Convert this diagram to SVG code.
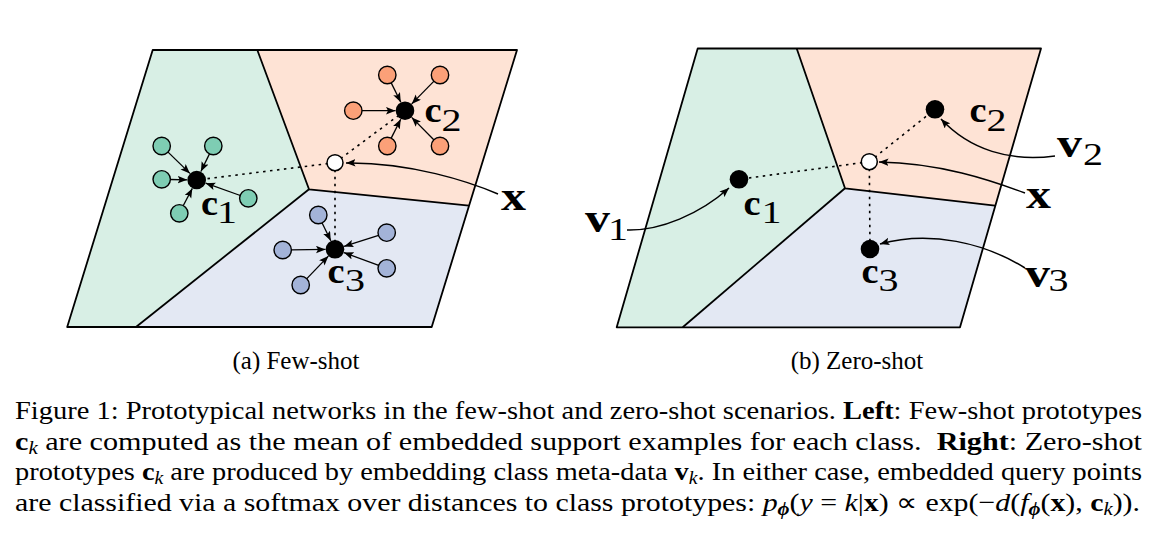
<svg xmlns="http://www.w3.org/2000/svg" width="1153" height="533" viewBox="0 0 1153 533">
<style>
.bd{fill:none;stroke:#000;stroke-width:1.8;stroke-linejoin:round}
.rg{fill:#d8efe5}.ro{fill:#fee3d5}.rb{fill:#e3e8f3}
.sg{fill:#7ecdb3;stroke:#000;stroke-width:1.4}
.so{fill:#fba078;stroke:#000;stroke-width:1.4}
.sb{fill:#a3b3d8;stroke:#000;stroke-width:1.4}
.ct{fill:#000}
.q{fill:#fff;stroke:#000;stroke-width:1.5}
.dot{fill:none;stroke:#000;stroke-width:1.6;stroke-dasharray:2.5 4.5}
.ar{fill:none;stroke:#000;stroke-width:1.3;marker-end:url(#ah)}
.cv{fill:none;stroke:#000;stroke-width:1.5;marker-end:url(#ah)}
.m{font-family:"Liberation Serif",serif;font-weight:bold;font-size:36px;fill:#000}
.mx{font-family:"Liberation Serif",serif;font-weight:bold;font-size:42px;fill:#000}
.sub{font-family:"Liberation Serif",serif;font-size:31px;fill:#000}
.cap{font-family:"Liberation Serif",serif;font-size:26px;fill:#000}
.sc{font-family:"Liberation Serif",serif;font-size:25px;fill:#000}
.b{font-weight:bold}.i{font-style:italic}
</style>
<defs>
<marker id="ah" markerUnits="userSpaceOnUse" markerWidth="11" markerHeight="8" refX="9.5" refY="3.75" orient="auto">
<path d="M0,0 L9.5,3.75 L0,7.5 L2,3.75 z" fill="#000"/>
</marker>
</defs>

<g id="panel-a-regions">
<polygon class="rg" points="152.7,50 257.3,50 309,189.3 136,327 67.2,327"/>
<polygon class="ro" points="257.3,50 517,50 469,205.7 309,189.3"/>
<polygon class="rb" points="309,189.3 469,205.7 431.7,327 136,327"/>
<polygon class="bd" points="152.7,50 517,50 431.7,327 67.2,327"/>
<polyline class="bd" points="257.3,50 309,189.3 469,205.7"/>
<line class="bd" x1="309" y1="189.3" x2="136" y2="327"/>
</g>

<g id="panel-b-regions">
<polygon class="rg" points="697.7,48.5 796.7,48.5 845,188.3 682.7,327.3 616.7,327.3"/>
<polygon class="ro" points="796.7,48.5 1041,48.5 995,205.7 845,188.3"/>
<polygon class="rb" points="845,188.3 995,205.7 960,327.3 682.7,327.3"/>
<polygon class="bd" points="697.7,48.5 1041,48.5 960,327.3 616.7,327.3"/>
<polyline class="bd" points="796.7,48.5 845,188.3 995,205.7"/>
<line class="bd" x1="845" y1="188.3" x2="682.7" y2="327.3"/>
</g>

<g id="connectors">
<line class="dot" x1="335" y1="162.7" x2="196.7" y2="180"/>
<line class="dot" x1="335" y1="162.7" x2="405" y2="110.7"/>
<line class="dot" x1="335" y1="162.7" x2="335" y2="249.3"/>
<line class="ar" x1="167.8" y1="151.9" x2="189.9" y2="173.4"/>
<line class="ar" x1="209.6" y1="153.6" x2="200.9" y2="171.5"/>
<line class="ar" x1="170.2" y1="179.5" x2="187.2" y2="179.8"/>
<line class="ar" x1="240.3" y1="195.5" x2="205.7" y2="183.2"/>
<line class="ar" x1="183.2" y1="205.8" x2="192.3" y2="188.4"/>
<line class="ar" x1="391.1" y1="82.6" x2="400.8" y2="102.2"/>
<line class="ar" x1="434" y1="81.1" x2="411.7" y2="103.9"/>
<line class="ar" x1="361.8" y1="110.7" x2="395.5" y2="110.7"/>
<line class="ar" x1="391.1" y1="138.4" x2="400.7" y2="119.2"/>
<line class="ar" x1="434" y1="140" x2="411.7" y2="117.4"/>
<line class="ar" x1="322" y1="222.7" x2="330.8" y2="240.8"/>
<line class="ar" x1="378.6" y1="235.3" x2="344" y2="246.4"/>
<line class="ar" x1="291.2" y1="249.9" x2="325.5" y2="249.4"/>
<line class="ar" x1="378.7" y1="265.4" x2="343.9" y2="252.6"/>
<line class="ar" x1="306.6" y1="278.9" x2="328.4" y2="256.1"/>
<path class="cv" d="M498,194 C470,182 410,162 346,163"/>
<line class="dot" x1="869.3" y1="161.7" x2="739" y2="179.3"/>
<line class="dot" x1="869.3" y1="161.7" x2="935" y2="109.3"/>
<line class="dot" x1="869.3" y1="161.7" x2="870" y2="249"/>
<path class="cv" d="M1025,193 C990,180 940,163 879,162"/>
<path class="cv" d="M627,230 C660,231 700,214 729,188"/>
<path class="cv" d="M1055,156 C1010,162 970,150 941,119"/>
<path class="cv" d="M1025,268 C985,243 930,230 880,244"/>
</g>

<g id="a-class1">
<circle class="sg" cx="161.7" cy="146" r="8.7"/>
<circle class="sg" cx="213.3" cy="146" r="8.7"/>
<circle class="sg" cx="161.7" cy="179.3" r="8.7"/>
<circle class="sg" cx="248.3" cy="198.3" r="8.7"/>
<circle class="sg" cx="179.3" cy="213.3" r="8.7"/>
<circle class="ct" cx="196.7" cy="180" r="9.3"/>
<text class="m" x="201" y="215" textLength="17" lengthAdjust="spacingAndGlyphs">c</text><text class="sub" x="217" y="223" textLength="20" lengthAdjust="spacingAndGlyphs">1</text>
</g>
<g id="a-class2">
<circle class="so" cx="387.3" cy="75" r="8.7"/>
<circle class="so" cx="440" cy="75" r="8.7"/>
<circle class="so" cx="353.3" cy="110.7" r="8.7"/>
<circle class="so" cx="387.3" cy="146" r="8.7"/>
<circle class="so" cx="440" cy="146" r="8.7"/>
<circle class="ct" cx="405" cy="110.7" r="9.3"/>
<text class="m" x="424.5" y="121.7" textLength="17" lengthAdjust="spacingAndGlyphs">c</text><text class="sub" x="441.5" y="130.5" textLength="20" lengthAdjust="spacingAndGlyphs">2</text>
</g>
<g id="a-class3">
<circle class="sb" cx="318.3" cy="215" r="8.7"/>
<circle class="sb" cx="386.7" cy="232.7" r="8.7"/>
<circle class="sb" cx="282.7" cy="250" r="8.7"/>
<circle class="sb" cx="386.7" cy="268.3" r="8.7"/>
<circle class="sb" cx="300.7" cy="285" r="8.7"/>
<circle class="ct" cx="335" cy="249.3" r="9.3"/>
<text class="m" x="327.5" y="283.3" textLength="17" lengthAdjust="spacingAndGlyphs">c</text><text class="sub" x="345" y="291" textLength="20" lengthAdjust="spacingAndGlyphs">3</text>
</g>
<g id="a-query">
<circle class="q" cx="335" cy="162.7" r="8"/>
<text class="mx" x="501" y="210" textLength="25" lengthAdjust="spacingAndGlyphs">x</text>
</g>

<g id="b-class1">
<circle class="ct" cx="739" cy="179.3" r="9.3"/>
<text class="m" x="743.5" y="215" textLength="17" lengthAdjust="spacingAndGlyphs">c</text><text class="sub" x="761.5" y="223" textLength="20" lengthAdjust="spacingAndGlyphs">1</text>
<text class="mx" x="585" y="232" textLength="25" lengthAdjust="spacingAndGlyphs">v</text><text class="sub" x="608" y="239.5" textLength="20" lengthAdjust="spacingAndGlyphs">1</text>
</g>
<g id="b-class2">
<circle class="ct" cx="935" cy="109.3" r="9.3"/>
<text class="m" x="969.5" y="121.7" textLength="17" lengthAdjust="spacingAndGlyphs">c</text><text class="sub" x="986.5" y="130.5" textLength="20" lengthAdjust="spacingAndGlyphs">2</text>
<text class="mx" x="1057" y="156.7" textLength="25" lengthAdjust="spacingAndGlyphs">v</text><text class="sub" x="1083" y="164.5" textLength="20" lengthAdjust="spacingAndGlyphs">2</text>
</g>
<g id="b-class3">
<circle class="ct" cx="870" cy="249" r="9.3"/>
<text class="m" x="861.5" y="283.3" textLength="17" lengthAdjust="spacingAndGlyphs">c</text><text class="sub" x="878.5" y="291" textLength="20" lengthAdjust="spacingAndGlyphs">3</text>
<text class="mx" x="1025" y="287" textLength="25" lengthAdjust="spacingAndGlyphs">v</text><text class="sub" x="1048.5" y="291" textLength="20" lengthAdjust="spacingAndGlyphs">3</text>
</g>
<g id="b-query">
<circle class="q" cx="869.3" cy="161.7" r="8"/>
<text class="mx" x="1026" y="208" textLength="25" lengthAdjust="spacingAndGlyphs">x</text>
</g>

<g id="captions">
<text class="sc" x="296" y="369" text-anchor="middle">(a) Few-shot</text>
<text class="sc" x="857" y="369" text-anchor="middle">(b) Zero-shot</text>
<text class="cap" x="15" y="419" textLength="1127" lengthAdjust="spacingAndGlyphs">Figure 1: Prototypical networks in the few-shot and zero-shot scenarios. <tspan class="b">Left</tspan>: Few-shot prototypes</text>
<text class="cap" x="15" y="450" textLength="1127" lengthAdjust="spacingAndGlyphs"><tspan class="b">c</tspan><tspan class="i" font-size="18" dy="4">k</tspan><tspan dy="-4"> are computed as the mean of embedded support examples for each class.&#160; </tspan><tspan class="b">Right</tspan>: Zero-shot</text>
<text class="cap" x="15" y="480" textLength="1127" lengthAdjust="spacingAndGlyphs">prototypes <tspan class="b">c</tspan><tspan class="i" font-size="18" dy="4">k</tspan><tspan dy="-4"> are produced by embedding class meta-data </tspan><tspan class="b">v</tspan><tspan class="i" font-size="18" dy="4">k</tspan><tspan dy="-4">. In either case, embedded query points</tspan></text>
<text class="cap" x="15" y="510.5" textLength="1125" lengthAdjust="spacingAndGlyphs">are classified via a softmax over distances to class prototypes: <tspan class="i">p</tspan><tspan class="b i" font-size="18" dy="4">ϕ</tspan><tspan dy="-4">(</tspan><tspan class="i">y</tspan> = <tspan class="i">k</tspan>|<tspan class="b">x</tspan>) ∝ exp(−<tspan class="i">d</tspan>(<tspan class="i">f</tspan><tspan class="b i" font-size="18" dy="4">ϕ</tspan><tspan dy="-4">(</tspan><tspan class="b">x</tspan>), <tspan class="b">c</tspan><tspan class="i" font-size="18" dy="4">k</tspan><tspan dy="-4">)).</tspan></text>
</g>
</svg>
